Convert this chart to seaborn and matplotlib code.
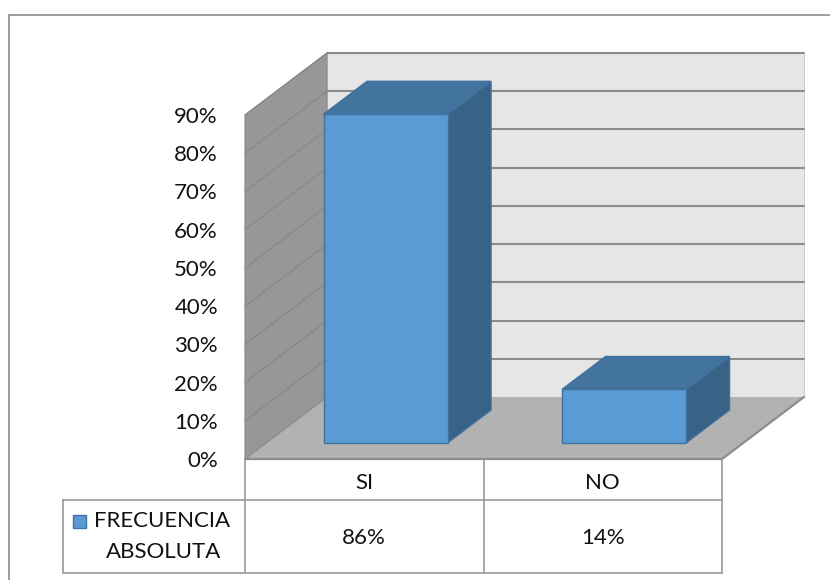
import matplotlib
matplotlib.use("Agg")
import matplotlib.pyplot as plt
from matplotlib.patches import Polygon, Rectangle
from matplotlib.lines import Line2D
import seaborn as sns

# ---- data ----
categories = ["SI", "NO"]
values = [86, 14]
value_labels = ["86%", "14%"]
series_name = ["FRECUENCIA", "ABSOLUTA"]
tick_values = [0, 10, 20, 30, 40, 50, 60, 70, 80, 90]

# ---- styling ----
FRONT = "#5b9bd5"
TOP = "#43749f"
SIDE = "#386286"
EDGE = "#41719c"
BACK_WALL = "#e6e6e6"
SIDE_WALL = "#979797"
FLOOR = "#b2b2b2"
GRID = "#8c8c8c"
TABLE_LINE = "#999999"
TEXT = "#111111"
FS = 16

sns.set_theme(style="white")
plt.rcParams["font.family"] = ["Lato", "DejaVu Sans"]

W, H, DPI = 830, 580, 100
fig = plt.figure(figsize=(W / DPI, H / DPI), dpi=DPI)
fig.patch.set_facecolor("white")

# front plane of the plot: x in [-0.5, 1.5], y in [0, 90]
AX_L, AX_R, AX_T, AX_B = 245, 722, 115, 459
ax = fig.add_axes([AX_L / W, 1 - AX_B / H, (AX_R - AX_L) / W, (AX_B - AX_T) / H])
XMIN, XMAX, YMIN, YMAX = -0.5, 1.5, 0, 90
px_x = (XMAX - XMIN) / (AX_R - AX_L)
px_y = (YMAX - YMIN) / (AX_B - AX_T)


def dx(px):
    return px * px_x


def dy(px):
    return px * px_y


def X(px):
    return XMIN + (px - AX_L) * px_x


def Y(px):
    return YMIN + (AX_B - px) * px_y


# depth of the 3-D box (in data units)
DX, DY = dx(82), dy(62)
F0, F1 = 0.26, 0.79  # bar depth span as a fraction of box depth

# bars (front faces) through seaborn
sns.barplot(x=categories, y=values, color=FRONT, saturation=1, width=0.52,
            edgecolor=EDGE, linewidth=1.0, ax=ax, zorder=6)
bars = list(ax.patches)

ax.set_xlim(XMIN, XMAX)
ax.set_ylim(YMIN, YMAX)
ax.set_facecolor("none")
for s in ax.spines.values():
    s.set_visible(False)
ax.set_xticks([])
ax.set_xlabel("")
ax.set_ylabel("")
ax.set_yticks(tick_values)
ax.set_yticklabels([f"{v}%" for v in tick_values], fontsize=FS, color=TEXT)
ax.tick_params(axis="y", length=0, pad=19.5)

# back wall
bx0, bx1 = XMIN + DX, XMAX + DX
ax.add_patch(Polygon([(bx0, DY), (bx1, DY), (bx1, YMAX + DY), (bx0, YMAX + DY)],
                     closed=True, facecolor=BACK_WALL, edgecolor="#d0d0d0",
                     linewidth=0.8, zorder=1, clip_on=False))
for v in tick_values[1:]:
    ax.add_line(Line2D([bx0, bx1], [v + DY, v + DY], color=GRID, lw=1.5,
                       zorder=1.5, clip_on=False))

# left side wall
ax.add_patch(Polygon([(XMIN, 0), (XMIN, YMAX), (XMIN + DX, YMAX + DY), (XMIN + DX, DY)],
                     closed=True, facecolor=SIDE_WALL, edgecolor="#8a8a8a",
                     linewidth=0.8, zorder=2, clip_on=False))
for v in tick_values[1:]:
    ax.add_line(Line2D([XMIN, XMIN + DX], [v, v + DY], color="#888888", lw=0.9,
                       zorder=2.5, clip_on=False))

# floor
ax.add_patch(Polygon([(XMIN, 0), (XMAX, 0), (XMAX + DX, DY), (XMIN + DX, DY)],
                     closed=True, facecolor=FLOOR, edgecolor="none",
                     zorder=3, clip_on=False))
ax.add_line(Line2D([XMIN, XMAX, XMAX + DX], [0, 0, DY], color=GRID, lw=1.6,
                   zorder=3.5, clip_on=False))
ax.add_line(Line2D([XMIN, XMIN + DX], [0, DY], color="#8a8a8a", lw=0.8,
                   zorder=3.5, clip_on=False))

# extrude each bar into a box
ddx, ddy = (F1 - F0) * DX, (F1 - F0) * DY
for p in bars:
    x0 = p.get_x() + F0 * DX
    w = p.get_width()
    h = p.get_height()
    y0 = F0 * DY
    p.set_x(x0)
    p.set_y(y0)
    x1, y1 = x0 + w, y0 + h
    ax.add_patch(Polygon([(x1, y0), (x1 + ddx, y0 + ddy), (x1 + ddx, y1 + ddy), (x1, y1)],
                         closed=True, facecolor=SIDE, edgecolor=EDGE, linewidth=1.0,
                         zorder=5, clip_on=False))
    ax.add_patch(Polygon([(x0, y1), (x1, y1), (x1 + ddx, y1 + ddy), (x0 + ddx, y1 + ddy)],
                         closed=True, facecolor=TOP, edgecolor=EDGE, linewidth=1.0,
                         zorder=5, clip_on=False))
    p.set_clip_on(False)

# data table below the plot
row1, row2 = Y(500), Y(573)
leg_left = X(63)
tl = dict(color=TABLE_LINE, lw=1.2, zorder=4, clip_on=False)
for i in range(len(categories) + 1):
    xv = XMIN + i
    ax.add_line(Line2D([xv, xv], [0, row2], **tl))
ax.add_line(Line2D([leg_left, XMAX], [row1, row1], **tl))
ax.add_line(Line2D([leg_left, XMAX], [row2, row2], **tl))
ax.add_line(Line2D([leg_left, leg_left], [row1, row2], **tl))

for i, (c, lab) in enumerate(zip(categories, value_labels)):
    ax.text(i, Y(483), c, ha="center", va="center", fontsize=FS, color=TEXT, clip_on=False)
    ax.text(i, Y(538), lab, ha="center", va="center", fontsize=FS, color=TEXT, clip_on=False)

# legend key + series name
ax.add_patch(Rectangle((X(73), Y(528)), dx(13), dy(13), facecolor=FRONT, edgecolor=EDGE,
                       linewidth=1.0, zorder=6, clip_on=False))
ax.text(X(162), Y(521), series_name[0], ha="center", va="center", fontsize=FS,
        color=TEXT, clip_on=False)
ax.text(X(164), Y(552), series_name[1], ha="center", va="center", fontsize=FS,
        color=TEXT, clip_on=False)

# chart frame
fig.add_artist(Line2D([9 / W, 9 / W], [0, 1 - 15 / H], color="#8c8c8c", lw=1.2,
                      transform=fig.transFigure))
fig.add_artist(Line2D([9 / W, 1], [1 - 15 / H, 1 - 15 / H], color="#8c8c8c", lw=1.2,
                      transform=fig.transFigure))

fig.savefig("out.png", dpi=DPI)
